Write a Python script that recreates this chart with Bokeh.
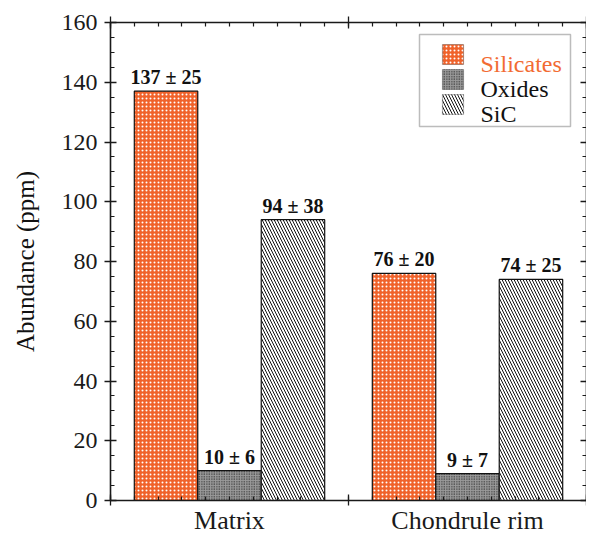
import numpy as np
from bokeh.plotting import figure
from bokeh.models import (Range1d, LinearAxis, SingleIntervalTicker, FixedTicker,
                          ColumnDataSource, BoxAnnotation, Label)
from bokeh.core.properties import value
from bokeh.embed import file_html
from bokeh.resources import INLINE

groups = ["Matrix", "Chondrule rim"]
series = ["Silicates", "Oxides", "SiC"]
silicates = [137, 76]
silicates_err = [25, 20]
oxides = [10, 9]
oxides_err = [6, 7]
sic = [94, 74]
sic_err = [38, 25]
y_ticks_major = 20

FONT_NAME = "'Liberation Serif', 'Times New Roman', serif"
FONT = value(FONT_NAME)
ORANGE = "#f0622a"

W, H = 476, 478
p = figure(frame_width=W, frame_height=H, min_border_left=110, min_border_top=22,
           min_border_right=0, min_border_bottom=0,
           x_range=Range1d(0, len(groups)), y_range=Range1d(0, 160),
           output_backend="svg", toolbar_location=None, x_axis_location=None,
           y_axis_location=None)
p.xgrid.visible = False
p.ygrid.visible = False
p.outline_line_color = None
p.background_fill_color = "white"

AX = "#1a1a1a"

def style_axis(ax, major_in, major_out, minor_in):
    ax.axis_line_color = AX
    ax.axis_line_width = 1.6
    ax.major_tick_line_color = AX
    ax.minor_tick_line_color = AX
    ax.major_tick_line_width = 1.3
    ax.minor_tick_line_width = 1.2
    ax.major_tick_in = major_in
    ax.major_tick_out = major_out
    ax.minor_tick_in = minor_in
    ax.minor_tick_out = 0

def hide_labels(ax):
    ax.major_label_text_color = None
    ax.major_label_text_font_size = "1px"
    ax.major_label_standoff = 0

# left
left = LinearAxis(ticker=SingleIntervalTicker(interval=y_ticks_major, num_minor_ticks=4))
style_axis(left, 6, 6, 4)
left.axis_label = "Abundance (ppm)"
left.axis_label_text_font = FONT_NAME
left.axis_label_text_font_size = "25px"
left.axis_label_text_font_style = "normal"
left.axis_label_text_color = "#111111"
left.axis_label_standoff = 20
left.major_label_text_font = FONT_NAME
left.major_label_text_font_size = "24px"
left.major_label_text_color = "#1a1a1a"
left.major_label_standoff = 7
p.add_layout(left, "left")

# right
right = LinearAxis(ticker=SingleIntervalTicker(interval=y_ticks_major, num_minor_ticks=4))
style_axis(right, 6, 0, 4)
hide_labels(right)
p.add_layout(right, "right")

# top
top = LinearAxis(ticker=SingleIntervalTicker(interval=1, num_minor_ticks=10))
style_axis(top, 6, 6, 4)
hide_labels(top)
p.add_layout(top, "above")

# bottom (ticks)
bottom = LinearAxis(ticker=SingleIntervalTicker(interval=1, num_minor_ticks=10))
style_axis(bottom, 6, 5, 4)
hide_labels(bottom)
p.add_layout(bottom, "below")

# bottom (category labels)
centers = [i + 0.5 for i in range(len(groups))]
cat = LinearAxis(ticker=FixedTicker(ticks=centers, minor_ticks=[]))
cat.axis_line_color = None
cat.major_tick_line_color = None
cat.minor_tick_line_color = None
cat.major_tick_in = 0
cat.major_tick_out = 0
cat.major_label_overrides = {c: g for c, g in zip(centers, groups)}
cat.major_label_text_font = FONT_NAME
cat.major_label_text_font_size = "26px"
cat.major_label_text_color = "#1a1a1a"
cat.major_label_standoff = 0
p.add_layout(cat, "below")

# bars
w = 0.8 / len(series)
vals = [silicates, oxides, sic]
errs = [silicates_err, oxides_err, sic_err]
styles = [
    dict(fill_color=ORANGE, hatch_pattern="dot", hatch_color="white", hatch_scale=4, hatch_weight=0.5),
    dict(fill_color="#9a9a9a", hatch_pattern="dot", hatch_color="#111111", hatch_scale=2.5, hatch_weight=1.3),
    dict(fill_color="white", hatch_pattern="left_diagonal_line", hatch_color="#111111", hatch_scale=6, hatch_weight=1),
]
for i, (name, v, e, st) in enumerate(zip(series, vals, errs, styles)):
    xs = [c + (i - 1) * w for c in centers]
    src = ColumnDataSource(dict(x=xs, top=v, label=[f"{a} \u00b1 {b}" for a, b in zip(v, e)]))
    p.vbar(x="x", top="top", bottom=0, width=w, source=src, line_color="#111111",
           line_width=1.2, **st)
    p.text(x="x", y="top", text="label", source=src, text_align="center",
           text_baseline="bottom", y_offset=-3, text_font=FONT, text_font_style="bold",
           text_font_size="20px", text_color="#111111")

# legend (manual, screen units relative to frame)
bx_left = 309
bx_right = 460
bx_top = H - 12
bx_bottom = bx_top - 92
p.add_layout(BoxAnnotation(left=bx_left, right=bx_right, top=bx_top, bottom=bx_bottom,
                           left_units="screen", right_units="screen", top_units="screen",
                           bottom_units="screen", fill_color="white", fill_alpha=1,
                           line_color="#222222", line_width=1.5, level="annotation"))
label_colors = ["#f26b33", "#111111", "#111111"]
for i, (name, st, lc) in enumerate(zip(series, styles, label_colors)):
    pt = bx_top - 10 - 25 * i
    p.add_layout(BoxAnnotation(left=bx_left + 23, right=bx_left + 44, top=pt, bottom=pt - 20,
                               left_units="screen", right_units="screen", top_units="screen",
                               bottom_units="screen", line_color="#111111", line_width=1.2,
                               fill_alpha=1, level="annotation", **st))
    p.add_layout(Label(x=bx_left + 61, y=bx_top - 29 - 25 * i, x_units="screen", y_units="screen",
                       text=name, text_font=FONT_NAME, text_font_size="24px",
                       text_color=lc, text_baseline="alphabetic", level="annotation"))

open("out.html", "w").write(file_html(p, INLINE))
